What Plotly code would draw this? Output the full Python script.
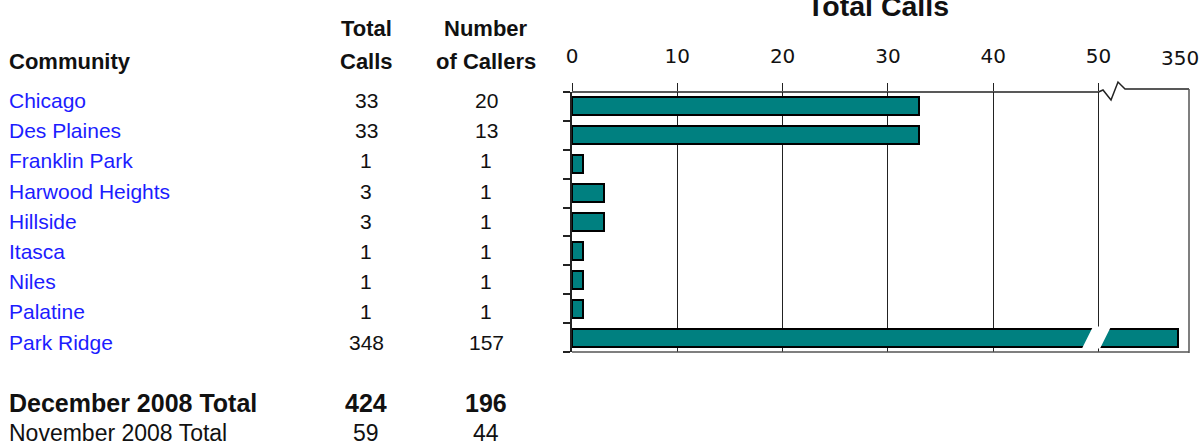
import plotly.graph_objects as go

# ---------------- data ----------------
communities = ["Chicago", "Des Plaines", "Franklin Park", "Harwood Heights", "Hillside",
               "Itasca", "Niles", "Palatine", "Park Ridge"]
total_calls = [33, 33, 1, 3, 3, 1, 1, 1, 348]
num_callers = [20, 13, 1, 1, 1, 1, 1, 1, 157]

summary_labels = ["December 2008 Total", "November 2008 Total"]
summary_calls = [424, 59]
summary_callers = [196, 44]

x_tick_values = [0, 10, 20, 30, 40, 50, 350]
x_tick_labels = ["0", "10", "20", "30", "40", "50", "350"]

chart_title = "Total Calls"
header_community = "Community"
header_calls = ["Total", "Calls"]
header_callers = ["Number", "of Callers"]

# ---------------- broken axis transform ----------------
BREAK_AT = 50       # axis is linear up to here
RESUME_AT = 250     # value where the axis resumes after the break
SEG2_SCALE = 0.077  # compressed scale after the break


def to_axis(v):
    return v if v <= BREAK_AT else BREAK_AT + (v - RESUME_AT) * SEG2_SCALE


# ---------------- layout geometry ----------------
W, H = 1204, 446
L, R, T, B = 572, 15, 92, 94
PW, PH = W - L - R, H - T - B
PX_PER_UNIT = 10.53
X_MAX = PW / PX_PER_UNIT
N = len(communities)


def xp(px):  # pixel x -> paper
    return (px - L) / PW


def yp(py):  # pixel y -> paper
    return (H - B - py) / PH


def dx(px):  # pixel x -> axis units
    return (px - L) / PX_PER_UNIT


TEXTFONT = "Liberation Sans, Arial, sans-serif"
TICKFONT = "DejaVu Sans, Verdana, sans-serif"
TITLEFONT = "Liberation Sans, Arial, sans-serif"
BLUE = "#1c1cff"
INK = "#111111"
LINE = "#222222"

fig = go.Figure()
fig.add_trace(go.Bar(
    x=[to_axis(v) for v in total_calls],
    y=list(range(N)),
    orientation="h",
    width=0.62,
    marker=dict(color="#008080", line=dict(color="#000000", width=2)),
    hoverinfo="skip",
    showlegend=False,
))

lin_vals = [v for v in x_tick_values if v <= BREAK_AT]
lin_text = [t for v, t in zip(x_tick_values, x_tick_labels) if v <= BREAK_AT]

fig.update_layout(
    width=W, height=H,
    margin=dict(l=L, r=R, t=T, b=B, pad=0),
    paper_bgcolor="white", plot_bgcolor="white",
    bargap=0,
    xaxis=dict(
        range=[0, X_MAX], side="top", tickmode="array",
        tickvals=lin_vals, ticktext=lin_text,
        ticks="outside", ticklen=8, tickcolor=LINE, tickwidth=1,
        showgrid=True, gridcolor=LINE, gridwidth=1,
        showline=False, zeroline=False,
        tickfont=dict(family=TICKFONT, size=20, color=INK),
        ticklabelstandoff=12,
    ),
    yaxis=dict(
        range=[N - 0.5, -0.5], tickmode="array",
        tickvals=[i - 0.5 for i in range(N + 1)],
        ticks="outside", ticklen=7, tickcolor=LINE, tickwidth=1.5,
        showticklabels=False, showgrid=False, zeroline=False,
        showline=True, linecolor=LINE, linewidth=1.5,
    ),
)

shapes = []
# top frame left of break
shapes.append(dict(type="line", xref="x", yref="paper", x0=0, x1=BREAK_AT, y0=1, y1=1,
                   line=dict(color=LINE, width=1.5)))
# zigzag break marker on the top frame
zz = [(BREAK_AT, 1), (dx(1103), yp(90)), (dx(1111), yp(100)), (dx(1118), yp(82)),
      (dx(1125), yp(89)), (X_MAX, yp(89))]
path = "M " + " L ".join(f"{x},{y}" for x, y in zz)
shapes.append(dict(type="path", xref="x", yref="paper", path=path,
                   line=dict(color=LINE, width=1.5)))
# right frame
shapes.append(dict(type="line", xref="paper", yref="paper", x0=1, x1=1, y0=yp(353), y1=yp(89),
                   line=dict(color="#555555", width=1.5)))
# bottom frame
shapes.append(dict(type="line", xref="x", yref="paper", x0=0, x1=X_MAX, y0=0, y1=0,
                   line=dict(color="#555555", width=1.5)))
# break band through the long bar
iy = N - 1
band = [(dx(1082), iy + 0.38), (dx(1100), iy + 0.38), (dx(1111), iy - 0.38), (dx(1093), iy - 0.38)]
shapes.append(dict(type="path", xref="x", yref="y", layer="above",
                   path="M " + " L ".join(f"{x},{y}" for x, y in band) + " Z",
                   fillcolor="white", line=dict(width=0)))
fig.update_layout(shapes=shapes)

ann = []


def txt(text, px, py, anchor="left", size=21, color=INK, bold=False, family=TEXTFONT):
    ann.append(dict(text=f"<b>{text}</b>" if bold else text, x=xp(px), y=yp(py),
                    xref="paper", yref="paper", xanchor=anchor, yanchor="middle",
                    showarrow=False, font=dict(family=family, size=size, color=color)))


# title
txt(chart_title, 878, 5.5, anchor="center", size=28.5, bold=True, family=TITLEFONT)
# break-side tick label
for v, t in zip(x_tick_values, x_tick_labels):
    if v > BREAK_AT:
        ann.append(dict(text=t, x=to_axis(v), y=yp(58), xref="x", yref="paper",
                        xanchor="center", yanchor="middle", showarrow=False,
                        font=dict(family=TICKFONT, size=20, color=INK)))

# headers
COL1, COL2 = 366, 486
txt(header_community, 7, 62, bold=True, size=22)
txt(header_calls[0], COL1, 28, anchor="center", bold=True, size=22)
txt(header_calls[1], COL1, 62, anchor="center", bold=True, size=22)
txt(header_callers[0], COL2, 28, anchor="center", bold=True, size=22)
txt(header_callers[1], COL2, 62, anchor="center", bold=True, size=22)

# rows
for i, (name, c, n) in enumerate(zip(communities, total_calls, num_callers)):
    y = 100.5 + i * 30.2
    txt(name, 7, y, color=BLUE)
    txt(str(c), COL1, y, anchor="center")
    txt(str(n), COL2, y, anchor="center")

# summary rows
for j, (lab, c, n) in enumerate(zip(summary_labels, summary_calls, summary_callers)):
    y = 403 + j * 30
    bold = j == 0
    sz = 25 if bold else 23
    txt(lab, 7, y, bold=bold, size=sz)
    txt(str(c), COL1, y, anchor="center", bold=bold, size=sz)
    txt(str(n), COL2, y, anchor="center", bold=bold, size=sz)

fig.update_layout(annotations=ann)
fig.write_html("out.html", config={"displayModeBar": False},
               post_script="document.body.style.margin='0';document.body.style.overflow='hidden';")
